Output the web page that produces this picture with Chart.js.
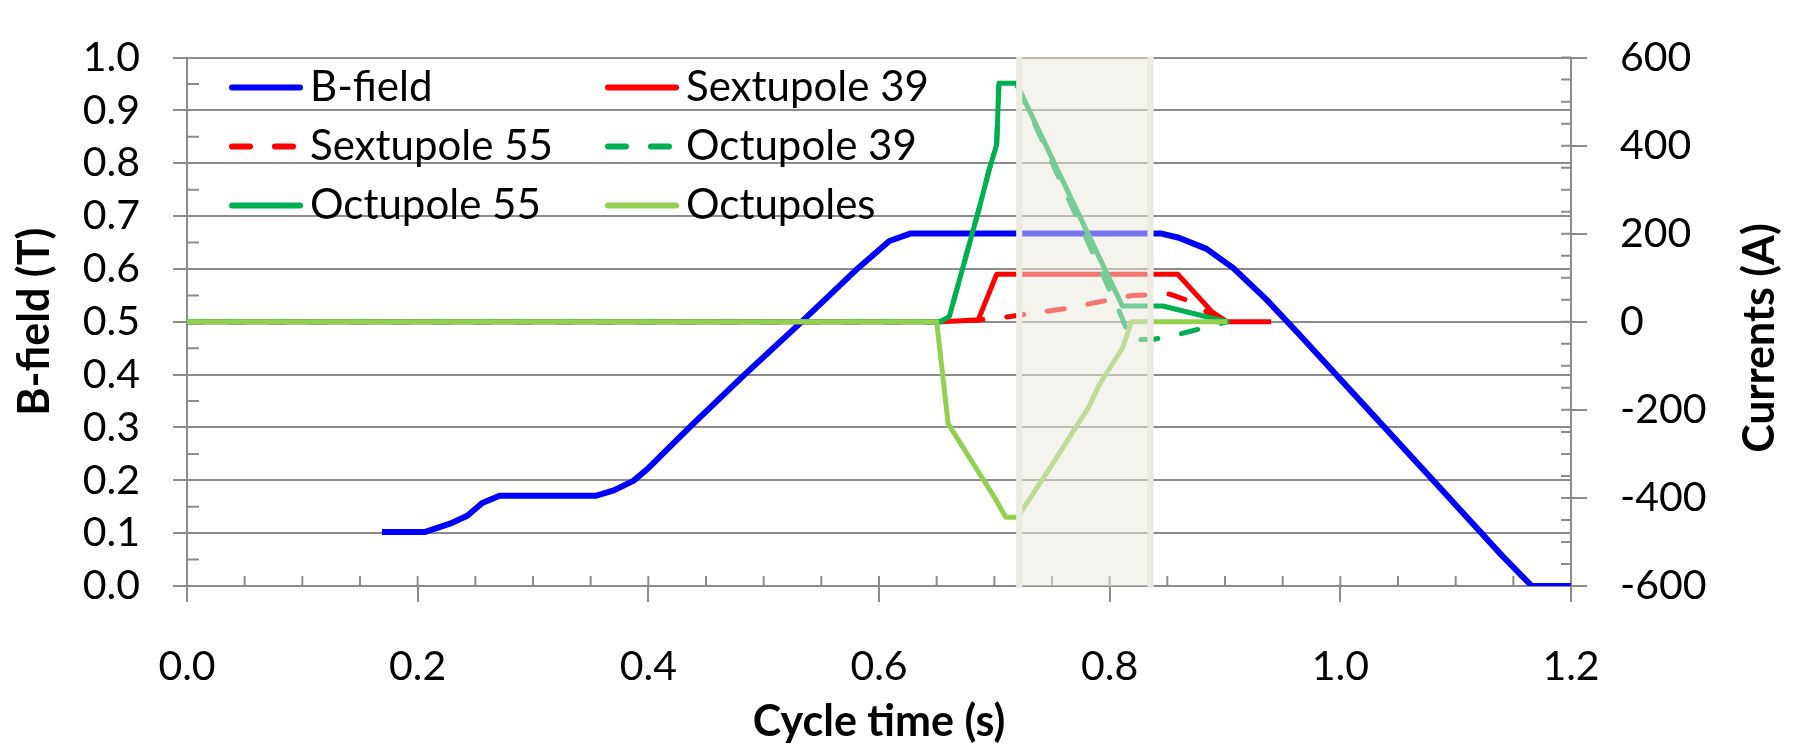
<!DOCTYPE html>
<html>
<head>
<meta charset="utf-8">
<script src="https://cdn.jsdelivr.net/npm/chart.js@4.4.1/dist/chart.umd.min.js"></script>
<style>
  html, body { margin: 0; padding: 0; background: #fff; }
  canvas { display: block; }
</style>
</head>
<body>
<canvas id="cycleChart" width="1797" height="744"></canvas>
<script>
// B-field ramp over the machine cycle (left axis, T)
var bTime  = [0.169, 0.206, 0.228, 0.243, 0.256, 0.271, 0.355, 0.370, 0.387, 0.400, 0.437, 0.483, 0.531, 0.582, 0.609, 0.627,
              0.845, 0.860, 0.884, 0.907, 0.936, 0.964, 1.022, 1.080, 1.140, 1.166, 1.200];
var bField = [0.102, 0.102, 0.118, 0.133, 0.157, 0.171, 0.171, 0.181, 0.199, 0.223, 0.303, 0.399, 0.496, 0.602, 0.653, 0.667,
              0.667, 0.659, 0.638, 0.602, 0.542, 0.477, 0.339, 0.201, 0.058, 0.000, 0.000];

// magnet currents (right axis, A)
var sext39Time = [0, 0.653, 0.686, 0.702, 0.859, 0.889, 0.902, 0.940];
var sext39     = [0, 0,     4,     108,   108,   22,    0,     0];

var sext55Time = [0, 0.653, 0.686, 0.703, 0.759, 0.820, 0.852, 0.866, 0.889, 0.902];
var sext55     = [0, 0,     4,     8,     29,    60,    63,    50,    15,    0];

var oct39Time = [0, 0.653, 0.661, 0.687, 0.696, 0.702, 0.704, 0.719, 0.811, 0.818, 0.837, 0.853, 0.871, 0.902];
var oct39     = [0, 0,     12,    259,   350,   402,   542,   542,   8,     -40,   -40,   -33,   -21,   0];

var oct55Time = [0, 0.653, 0.661, 0.687, 0.696, 0.702, 0.704, 0.719, 0.811, 0.846, 0.902];
var oct55     = [0, 0,     12,    259,   350,   402,   542,   542,   36,    36,    0];

var octTime = [0, 0.650, 0.660, 0.699, 0.710, 0.720, 0.748, 0.782, 0.791, 0.811, 0.819, 0.902];
var octSum  = [0, 0,     -232,  -394,  -444,  -444,  -333,  -193,  -143,  -60,   0,     0];

// highlighted time window
var bandStart = 0.719;
var bandEnd = 0.838;

var axisGrey = '#8c8c8c';
var FONT = 'Lato';

function pts(t, v) {
  return t.map(function (x, i) { return { x: x, y: v[i] }; });
}

function series(label, t, v, color, axis, dashed, width, order) {
  return {
    label: label,
    data: pts(t, v),
    borderColor: color,
    backgroundColor: color,
    borderWidth: width,
    borderDash: dashed ? [17, 24] : [],
    borderCapStyle: dashed ? 'round' : 'butt',
    borderJoinStyle: 'round',
    pointRadius: 0,
    tension: 0,
    yAxisID: axis,
    order: order
  };
}

var datasets = [
  series('B-field', bTime, bField, '#0000ff', 'y', false, 6, 6),
  series('Sextupole 39', sext39Time, sext39, '#ff0000', 'y1', false, 5, 5),
  series('Sextupole 55', sext55Time, sext55, '#ff0000', 'y1', true, 5, 4),
  series('Octupole 39', oct39Time, oct39, '#00b050', 'y1', true, 5, 3),
  series('Octupole 55', oct55Time, oct55, '#00b050', 'y1', false, 5, 2),
  series('Octupoles', octTime, octSum, '#92d050', 'y1', false, 5, 1)
];

// small inward tick marks between the labelled ones
var minorTicks = {
  id: 'minorTicks',
  beforeDatasetsDraw: function (chart) {
    var ctx = chart.ctx, a = chart.chartArea, s = chart.scales;
    ctx.save();
    ctx.strokeStyle = axisGrey;
    ctx.lineWidth = 2;
    ctx.beginPath();
    var i, p;
    for (i = 1; i < 24; i++) {
      p = s.x.getPixelForValue(i * 0.05);
      ctx.moveTo(p, a.bottom);
      ctx.lineTo(p, a.bottom - 10);
    }
    for (i = 1; i < 20; i += 2) {
      p = s.y.getPixelForValue(i * 0.05);
      ctx.moveTo(a.left, p);
      ctx.lineTo(a.left + 12, p);
    }
    for (i = -600; i <= 600; i += 50) {
      p = s.y1.getPixelForValue(i);
      ctx.moveTo(a.right, p);
      ctx.lineTo(a.right - 10, p);
    }
    ctx.stroke();
    ctx.restore();
  }
};

// translucent window laid over the curves
var timeBand = {
  id: 'timeBand',
  afterDatasetsDraw: function (chart) {
    var ctx = chart.ctx, a = chart.chartArea, x = chart.scales.x;
    var x0 = x.getPixelForValue(bandStart), x1 = x.getPixelForValue(bandEnd);
    ctx.save();
    ctx.fillStyle = 'rgba(233, 231, 221, 0.5)';
    ctx.fillRect(x0, a.top - 1, x1 - x0, a.bottom - a.top + 1);
    ctx.fillStyle = '#ecebe2';
    ctx.fillRect(x0, a.top - 1, 6, a.bottom - a.top + 3);
    ctx.fillRect(x1 - 6, a.top - 1, 6, a.bottom - a.top + 3);
    ctx.restore();
  }
};

// two-column legend inside the plot and the right axis title
var sideText = {
  id: 'sideText',
  afterDraw: function (chart) {
    var ctx = chart.ctx, a = chart.chartArea;
    var cols = [a.left + 42, a.left + 418];
    var rows = [a.top + 30, a.top + 89, a.top + 148];
    ctx.save();
    ctx.font = '42px ' + FONT;
    ctx.textBaseline = 'middle';
    ctx.textAlign = 'left';
    chart.data.datasets.forEach(function (ds, i) {
      var cx = cols[i % 2], cy = rows[Math.floor(i / 2)];
      ctx.strokeStyle = ds.borderColor;
      ctx.lineWidth = 6;
      ctx.lineCap = 'round';
      ctx.setLineDash(ds.borderDash.length ? [18, 25] : []);
      ctx.beginPath();
      ctx.moveTo(cx + 3, cy);
      ctx.lineTo(cx + 71, cy);
      ctx.stroke();
      ctx.setLineDash([]);
      ctx.fillStyle = '#000';
      ctx.fillText(ds.label, cx + 81, cy);
    });

    ctx.translate(1760, 338);
    ctx.rotate(-Math.PI / 2);
    ctx.font = 'bold 43px ' + FONT;
    ctx.textAlign = 'center';
    ctx.fillText('Currents (A)', 0, 0);
    ctx.restore();
  }
};

var ctx = document.getElementById('cycleChart').getContext('2d');
var tickFont = { family: FONT, size: 41, lineHeight: 1.2 };
var titleFont = { family: FONT, size: 43, weight: 'bold', lineHeight: 1 };

new Chart(ctx, {
  type: 'line',
  data: { datasets: datasets },
  plugins: [minorTicks, timeBand, sideText],
  options: {
    responsive: false,
    animation: false,
    devicePixelRatio: 1,
    layout: { padding: { top: 28, left: 0, right: 0, bottom: 0 } },
    plugins: {
      legend: { display: false },
      tooltip: { enabled: false }
    },
    scales: {
      x: {
        type: 'linear',
        min: 0,
        max: 1.2,
        afterFit: function (s) { s.height = 158; },
        ticks: {
          stepSize: 0.2,
          color: '#000',
          font: tickFont,
          padding: 40,
          maxRotation: 0,
          callback: function (v) { return v.toFixed(1); }
        },
        grid: { drawOnChartArea: false, tickLength: 16, color: axisGrey, lineWidth: 2 },
        border: { color: axisGrey, width: 2 },
        title: { display: true, text: 'Cycle time (s)', color: '#000', font: titleFont, padding: { top: 0, bottom: 0 } }
      },
      y: {
        position: 'left',
        min: 0,
        max: 1,
        afterFit: function (s) { s.width = 187; },
        ticks: {
          stepSize: 0.1,
          color: '#000',
          font: tickFont,
          padding: 33,
          callback: function (v) { return v.toFixed(1); }
        },
        grid: { tickLength: 14, color: axisGrey, lineWidth: 2 },
        border: { color: axisGrey, width: 2 },
        title: { display: true, text: 'B-field (T)', color: '#000', font: titleFont, padding: { top: 14, bottom: 0 } }
      },
      y1: {
        position: 'right',
        min: -600,
        max: 600,
        afterFit: function (s) { s.width = 226; },
        ticks: { stepSize: 200, color: '#000', font: tickFont, padding: 33 },
        grid: { drawOnChartArea: false, tickLength: 16, color: axisGrey, lineWidth: 2 },
        border: { color: axisGrey, width: 2 }
      }
    }
  }
});
</script>
</body>
</html>
